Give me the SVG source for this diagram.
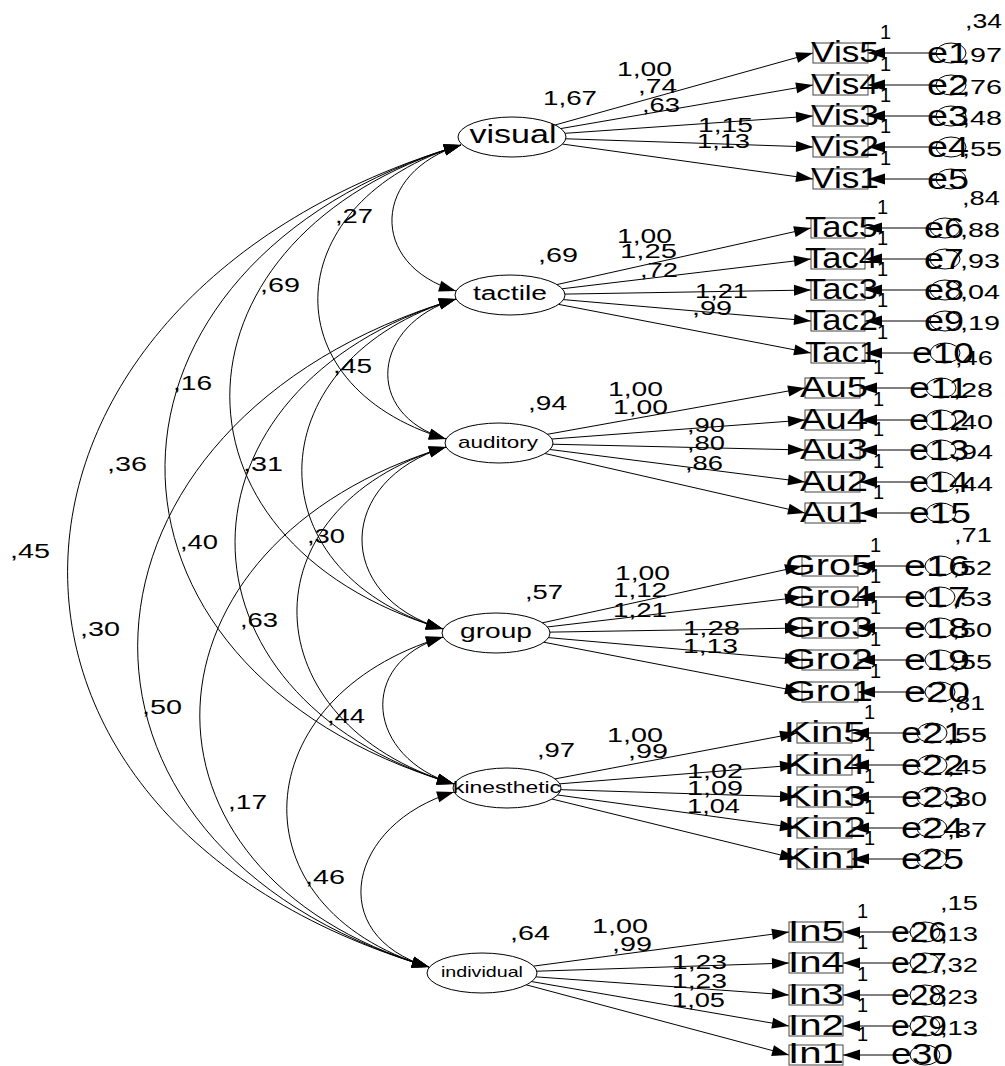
<svg xmlns="http://www.w3.org/2000/svg" width="1005" height="1066" viewBox="0 0 1005 1066">
<style>
.ln{stroke:#000;stroke-width:1;fill:none}
.ar{marker-end:url(#ah)}
.arc{stroke:#000;stroke-width:1;fill:none;marker-start:url(#ah);marker-end:url(#ah)}
.lat{fill:#fff;stroke:#000;stroke-width:1}
.box{fill:#fff;stroke:#444;stroke-width:1}
.err{fill:none;stroke:#000;stroke-width:1}
text{font-family:"Liberation Sans",Arial,sans-serif;fill:#000}
.b{font-size:30px}
.s{font-size:20px}
.e{font-size:30px}
</style>
<defs>
<marker id="ah" markerUnits="userSpaceOnUse" markerWidth="17" markerHeight="11" refX="17" refY="5.5" orient="auto-start-reverse" overflow="visible">
<path d="M0,0 L17,5.5 L0,11 z" fill="#000"/>
</marker>
</defs>
<rect width="1005" height="1066" fill="#fff"/>
<g id="connectors">
<path class="arc" d="M461,145 C372.3,171.6 367.3,264.4 456,291"/>
<path class="arc" d="M461,145 C280.4,199.2 265.4,384.8 446,439"/>
<path class="arc" d="M461,145 C165,233.8 147,540.2 443,629"/>
<path class="arc" d="M461,145 C71,262 64,667 454,784"/>
<path class="arc" d="M461,145 C-41.7,295.8 -73.7,816.2 429,967"/>
<path class="arc" d="M456,299 C372,324.2 362,413.8 446,439"/>
<path class="arc" d="M456,299 C259.3,358 246.3,570 443,629"/>
<path class="arc" d="M456,299 C162.7,387 160.7,696 454,784"/>
<path class="arc" d="M456,299 C50,420.8 23,845.2 429,967"/>
<path class="arc" d="M446,447 C336,480 333,596 443,629"/>
<path class="arc" d="M446,447 C242,508.2 250,722.8 454,784"/>
<path class="arc" d="M446,447 C129.3,542 112.3,872 429,967"/>
<path class="arc" d="M443,637 C355.7,663.2 366.7,757.8 454,784"/>
<path class="arc" d="M443,637 C244.3,696.6 230.3,907.4 429,967"/>
<path class="arc" d="M454,792 C348,823.8 323,935.2 429,967"/>
<g class="ln ar">
<line x1="512" y1="137" x2="813" y2="53"/><line x1="512" y1="137" x2="813" y2="85"/><line x1="512" y1="137" x2="813" y2="116"/><line x1="512" y1="137" x2="813" y2="147"/><line x1="512" y1="137" x2="813" y2="179"/>
<line x1="510" y1="295" x2="811" y2="228"/><line x1="510" y1="295" x2="811" y2="259"/><line x1="510" y1="295" x2="811" y2="290"/><line x1="510" y1="295" x2="811" y2="321"/><line x1="510" y1="295" x2="811" y2="353"/>
<line x1="499" y1="443" x2="805" y2="388"/><line x1="499" y1="443" x2="805" y2="420"/><line x1="499" y1="443" x2="805" y2="450"/><line x1="499" y1="443" x2="805" y2="482"/><line x1="499" y1="443" x2="805" y2="513"/>
<line x1="496" y1="633" x2="802" y2="566"/><line x1="496" y1="633" x2="802" y2="597"/><line x1="496" y1="633" x2="802" y2="628"/><line x1="496" y1="633" x2="802" y2="660"/><line x1="496" y1="633" x2="802" y2="692"/>
<line x1="507" y1="788" x2="797" y2="733"/><line x1="507" y1="788" x2="797" y2="765"/><line x1="507" y1="788" x2="797" y2="797"/><line x1="507" y1="788" x2="797" y2="828"/><line x1="507" y1="788" x2="797" y2="859"/>
<line x1="482" y1="973" x2="789" y2="932"/><line x1="482" y1="973" x2="789" y2="963"/><line x1="482" y1="973" x2="789" y2="995"/><line x1="482" y1="973" x2="789" y2="1026"/><line x1="482" y1="973" x2="789" y2="1055"/>
<line x1="936" y1="53" x2="868" y2="53"/><line x1="936" y1="85" x2="868" y2="85"/><line x1="936" y1="116" x2="868" y2="116"/><line x1="936" y1="147" x2="868" y2="147"/><line x1="936" y1="179" x2="868" y2="179"/>
<line x1="930" y1="228" x2="865" y2="228"/><line x1="930" y1="259" x2="865" y2="259"/><line x1="930" y1="290" x2="865" y2="290"/><line x1="930" y1="321" x2="865" y2="321"/><line x1="930" y1="353" x2="865" y2="353"/>
<line x1="926" y1="388" x2="860" y2="388"/><line x1="926" y1="420" x2="860" y2="420"/><line x1="926" y1="450" x2="860" y2="450"/><line x1="926" y1="482" x2="860" y2="482"/><line x1="926" y1="513" x2="860" y2="513"/>
<line x1="925" y1="566" x2="858" y2="566"/><line x1="925" y1="597" x2="858" y2="597"/><line x1="925" y1="628" x2="858" y2="628"/><line x1="925" y1="660" x2="858" y2="660"/><line x1="925" y1="692" x2="858" y2="692"/>
<line x1="917" y1="733" x2="852" y2="733"/><line x1="917" y1="765" x2="852" y2="765"/><line x1="917" y1="797" x2="852" y2="797"/><line x1="917" y1="828" x2="852" y2="828"/><line x1="917" y1="859" x2="852" y2="859"/>
<line x1="910" y1="932" x2="843" y2="932"/><line x1="910" y1="963" x2="843" y2="963"/><line x1="910" y1="995" x2="843" y2="995"/><line x1="910" y1="1026" x2="843" y2="1026"/><line x1="910" y1="1055" x2="843" y2="1055"/>
</g>
</g>
<g id="latent-visual"><ellipse class="lat" cx="512" cy="137" rx="54" ry="20"/><text x="513" y="143" font-size="26" text-anchor="middle" textLength="87" lengthAdjust="spacingAndGlyphs">visual</text></g>
<g id="latent-tactile"><ellipse class="lat" cx="510" cy="295" rx="55" ry="20"/><text x="510" y="300" font-size="20" text-anchor="middle" textLength="74" lengthAdjust="spacingAndGlyphs">tactile</text></g>
<g id="latent-auditory"><ellipse class="lat" cx="499" cy="443" rx="54" ry="20"/><text x="498" y="448" font-size="17" text-anchor="middle" textLength="80" lengthAdjust="spacingAndGlyphs">auditory</text></g>
<g id="latent-group"><ellipse class="lat" cx="496" cy="633" rx="54" ry="20"/><text x="496" y="638" font-size="21" text-anchor="middle" textLength="72" lengthAdjust="spacingAndGlyphs">group</text></g>
<g id="latent-kinesthetic"><ellipse class="lat" cx="507" cy="788" rx="54" ry="20"/><text x="507" y="793" font-size="17" text-anchor="middle" textLength="108" lengthAdjust="spacingAndGlyphs">kinesthetic</text></g>
<g id="latent-individual"><ellipse class="lat" cx="482" cy="973" rx="55" ry="20"/><text x="482" y="977" font-size="15" text-anchor="middle" textLength="82" lengthAdjust="spacingAndGlyphs">individual</text></g>
<g id="observed">
<g id="Vis5"><rect class="box" x="813" y="43" width="55" height="20"/><text class="b" x="811" y="62" textLength="68" lengthAdjust="spacingAndGlyphs">Vis5</text></g>
<g id="Vis4"><rect class="box" x="813" y="75" width="55" height="20"/><text class="b" x="811" y="94" textLength="68" lengthAdjust="spacingAndGlyphs">Vis4</text></g>
<g id="Vis3"><rect class="box" x="813" y="106" width="55" height="20"/><text class="b" x="811" y="125" textLength="68" lengthAdjust="spacingAndGlyphs">Vis3</text></g>
<g id="Vis2"><rect class="box" x="813" y="137" width="55" height="20"/><text class="b" x="811" y="156" textLength="68" lengthAdjust="spacingAndGlyphs">Vis2</text></g>
<g id="Vis1"><rect class="box" x="813" y="169" width="55" height="20"/><text class="b" x="811" y="188" textLength="68" lengthAdjust="spacingAndGlyphs">Vis1</text></g>
<g id="Tac5"><rect class="box" x="811" y="218" width="54" height="20"/><text class="b" x="805" y="237" textLength="73" lengthAdjust="spacingAndGlyphs">Tac5</text></g>
<g id="Tac4"><rect class="box" x="811" y="249" width="54" height="20"/><text class="b" x="805" y="268" textLength="73" lengthAdjust="spacingAndGlyphs">Tac4</text></g>
<g id="Tac3"><rect class="box" x="811" y="280" width="54" height="20"/><text class="b" x="805" y="299" textLength="73" lengthAdjust="spacingAndGlyphs">Tac3</text></g>
<g id="Tac2"><rect class="box" x="811" y="311" width="54" height="20"/><text class="b" x="805" y="330" textLength="73" lengthAdjust="spacingAndGlyphs">Tac2</text></g>
<g id="Tac1"><rect class="box" x="811" y="343" width="54" height="20"/><text class="b" x="805" y="362" textLength="73" lengthAdjust="spacingAndGlyphs">Tac1</text></g>
<g id="Au5"><rect class="box" x="805" y="378" width="55" height="20"/><text class="b" x="800" y="397" textLength="68" lengthAdjust="spacingAndGlyphs">Au5</text></g>
<g id="Au4"><rect class="box" x="805" y="410" width="55" height="20"/><text class="b" x="800" y="429" textLength="68" lengthAdjust="spacingAndGlyphs">Au4</text></g>
<g id="Au3"><rect class="box" x="805" y="440" width="55" height="20"/><text class="b" x="800" y="459" textLength="68" lengthAdjust="spacingAndGlyphs">Au3</text></g>
<g id="Au2"><rect class="box" x="805" y="472" width="55" height="20"/><text class="b" x="800" y="491" textLength="68" lengthAdjust="spacingAndGlyphs">Au2</text></g>
<g id="Au1"><rect class="box" x="805" y="503" width="55" height="20"/><text class="b" x="800" y="522" textLength="68" lengthAdjust="spacingAndGlyphs">Au1</text></g>
<g id="Gro5"><rect class="box" x="802" y="556" width="56" height="20"/><text class="b" x="785" y="575" textLength="88" lengthAdjust="spacingAndGlyphs">Gro5</text></g>
<g id="Gro4"><rect class="box" x="802" y="587" width="56" height="20"/><text class="b" x="785" y="606" textLength="88" lengthAdjust="spacingAndGlyphs">Gro4</text></g>
<g id="Gro3"><rect class="box" x="802" y="618" width="56" height="20"/><text class="b" x="785" y="637" textLength="88" lengthAdjust="spacingAndGlyphs">Gro3</text></g>
<g id="Gro2"><rect class="box" x="802" y="650" width="56" height="20"/><text class="b" x="785" y="669" textLength="88" lengthAdjust="spacingAndGlyphs">Gro2</text></g>
<g id="Gro1"><rect class="box" x="802" y="682" width="56" height="20"/><text class="b" x="785" y="701" textLength="88" lengthAdjust="spacingAndGlyphs">Gro1</text></g>
<g id="Kin5"><rect class="box" x="797" y="723" width="55" height="20"/><text class="b" x="784" y="742" textLength="82" lengthAdjust="spacingAndGlyphs">Kin5</text></g>
<g id="Kin4"><rect class="box" x="797" y="755" width="55" height="20"/><text class="b" x="784" y="774" textLength="82" lengthAdjust="spacingAndGlyphs">Kin4</text></g>
<g id="Kin3"><rect class="box" x="797" y="787" width="55" height="20"/><text class="b" x="784" y="806" textLength="82" lengthAdjust="spacingAndGlyphs">Kin3</text></g>
<g id="Kin2"><rect class="box" x="797" y="818" width="55" height="20"/><text class="b" x="784" y="837" textLength="82" lengthAdjust="spacingAndGlyphs">Kin2</text></g>
<g id="Kin1"><rect class="box" x="797" y="849" width="55" height="20"/><text class="b" x="784" y="868" textLength="82" lengthAdjust="spacingAndGlyphs">Kin1</text></g>
<g id="In5"><rect class="box" x="789" y="922" width="54" height="20"/><text class="b" x="788" y="941" textLength="56" lengthAdjust="spacingAndGlyphs">In5</text></g>
<g id="In4"><rect class="box" x="789" y="953" width="54" height="20"/><text class="b" x="788" y="972" textLength="56" lengthAdjust="spacingAndGlyphs">In4</text></g>
<g id="In3"><rect class="box" x="789" y="985" width="54" height="20"/><text class="b" x="788" y="1004" textLength="56" lengthAdjust="spacingAndGlyphs">In3</text></g>
<g id="In2"><rect class="box" x="789" y="1016" width="54" height="20"/><text class="b" x="788" y="1035" textLength="56" lengthAdjust="spacingAndGlyphs">In2</text></g>
<g id="In1"><rect class="box" x="789" y="1045" width="54" height="20"/><text class="b" x="788" y="1063" textLength="56" lengthAdjust="spacingAndGlyphs">In1</text></g>
</g>
<g id="errors">
<g id="e1"><ellipse class="err" cx="951" cy="53" rx="15" ry="10"/><text class="e" x="927" y="63" textLength="42" lengthAdjust="spacingAndGlyphs">e1</text></g>
<g id="e2"><ellipse class="err" cx="951" cy="85" rx="15" ry="10"/><text class="e" x="927" y="95" textLength="42" lengthAdjust="spacingAndGlyphs">e2</text></g>
<g id="e3"><ellipse class="err" cx="951" cy="116" rx="15" ry="10"/><text class="e" x="927" y="126" textLength="42" lengthAdjust="spacingAndGlyphs">e3</text></g>
<g id="e4"><ellipse class="err" cx="951" cy="147" rx="15" ry="10"/><text class="e" x="927" y="157" textLength="42" lengthAdjust="spacingAndGlyphs">e4</text></g>
<g id="e5"><ellipse class="err" cx="951" cy="179" rx="15" ry="10"/><text class="e" x="927" y="189" textLength="42" lengthAdjust="spacingAndGlyphs">e5</text></g>
<g id="e6"><ellipse class="err" cx="945" cy="228" rx="15" ry="10"/><text class="e" x="924" y="238" textLength="40" lengthAdjust="spacingAndGlyphs">e6</text></g>
<g id="e7"><ellipse class="err" cx="945" cy="259" rx="15" ry="10"/><text class="e" x="924" y="269" textLength="40" lengthAdjust="spacingAndGlyphs">e7</text></g>
<g id="e8"><ellipse class="err" cx="945" cy="290" rx="15" ry="10"/><text class="e" x="924" y="300" textLength="40" lengthAdjust="spacingAndGlyphs">e8</text></g>
<g id="e9"><ellipse class="err" cx="945" cy="321" rx="15" ry="10"/><text class="e" x="924" y="331" textLength="40" lengthAdjust="spacingAndGlyphs">e9</text></g>
<g id="e10"><ellipse class="err" cx="945" cy="353" rx="15" ry="10"/><text class="e" x="912" y="363" textLength="62" lengthAdjust="spacingAndGlyphs">e10</text></g>
<g id="e11"><ellipse class="err" cx="941" cy="388" rx="15" ry="10"/><text class="e" x="909" y="398" textLength="60" lengthAdjust="spacingAndGlyphs">e11</text></g>
<g id="e12"><ellipse class="err" cx="941" cy="420" rx="15" ry="10"/><text class="e" x="909" y="430" textLength="60" lengthAdjust="spacingAndGlyphs">e12</text></g>
<g id="e13"><ellipse class="err" cx="941" cy="450" rx="15" ry="10"/><text class="e" x="909" y="460" textLength="60" lengthAdjust="spacingAndGlyphs">e13</text></g>
<g id="e14"><ellipse class="err" cx="941" cy="482" rx="15" ry="10"/><text class="e" x="909" y="492" textLength="60" lengthAdjust="spacingAndGlyphs">e14</text></g>
<g id="e15"><ellipse class="err" cx="941" cy="513" rx="15" ry="10"/><text class="e" x="909" y="523" textLength="62" lengthAdjust="spacingAndGlyphs">e15</text></g>
<g id="e16"><ellipse class="err" cx="940" cy="566" rx="15" ry="10"/><text class="e" x="904" y="576" textLength="66" lengthAdjust="spacingAndGlyphs">e16</text></g>
<g id="e17"><ellipse class="err" cx="940" cy="597" rx="15" ry="10"/><text class="e" x="904" y="607" textLength="66" lengthAdjust="spacingAndGlyphs">e17</text></g>
<g id="e18"><ellipse class="err" cx="940" cy="628" rx="15" ry="10"/><text class="e" x="904" y="638" textLength="66" lengthAdjust="spacingAndGlyphs">e18</text></g>
<g id="e19"><ellipse class="err" cx="940" cy="660" rx="15" ry="10"/><text class="e" x="904" y="670" textLength="66" lengthAdjust="spacingAndGlyphs">e19</text></g>
<g id="e20"><ellipse class="err" cx="940" cy="692" rx="15" ry="10"/><text class="e" x="904" y="702" textLength="66" lengthAdjust="spacingAndGlyphs">e20</text></g>
<g id="e21"><ellipse class="err" cx="932" cy="733" rx="15" ry="10"/><text class="e" x="901" y="743" textLength="63" lengthAdjust="spacingAndGlyphs">e21</text></g>
<g id="e22"><ellipse class="err" cx="932" cy="765" rx="15" ry="10"/><text class="e" x="901" y="775" textLength="63" lengthAdjust="spacingAndGlyphs">e22</text></g>
<g id="e23"><ellipse class="err" cx="932" cy="797" rx="15" ry="10"/><text class="e" x="901" y="807" textLength="63" lengthAdjust="spacingAndGlyphs">e23</text></g>
<g id="e24"><ellipse class="err" cx="932" cy="828" rx="15" ry="10"/><text class="e" x="901" y="838" textLength="63" lengthAdjust="spacingAndGlyphs">e24</text></g>
<g id="e25"><ellipse class="err" cx="932" cy="859" rx="15" ry="10"/><text class="e" x="901" y="869" textLength="63" lengthAdjust="spacingAndGlyphs">e25</text></g>
<g id="e26"><ellipse class="err" cx="925" cy="932" rx="15" ry="10"/><text class="e" x="891" y="942" textLength="56" lengthAdjust="spacingAndGlyphs">e26</text></g>
<g id="e27"><ellipse class="err" cx="925" cy="963" rx="15" ry="10"/><text class="e" x="891" y="973" textLength="56" lengthAdjust="spacingAndGlyphs">e27</text></g>
<g id="e28"><ellipse class="err" cx="925" cy="995" rx="15" ry="10"/><text class="e" x="891" y="1005" textLength="56" lengthAdjust="spacingAndGlyphs">e28</text></g>
<g id="e29"><ellipse class="err" cx="925" cy="1026" rx="15" ry="10"/><text class="e" x="891" y="1036" textLength="56" lengthAdjust="spacingAndGlyphs">e29</text></g>
<g id="e30"><ellipse class="err" cx="925" cy="1055" rx="15" ry="10"/><text class="e" x="891" y="1064" textLength="62" lengthAdjust="spacingAndGlyphs">e30</text></g>
</g>
<g id="labels" class="s">
<g id="ones">
<text class="s" x="880" y="39">1</text><text class="s" x="880" y="71">1</text><text class="s" x="880" y="102">1</text><text class="s" x="880" y="133">1</text><text class="s" x="880" y="165">1</text>
<text class="s" x="877" y="214">1</text><text class="s" x="877" y="245">1</text><text class="s" x="877" y="276">1</text><text class="s" x="877" y="307">1</text><text class="s" x="877" y="339">1</text>
<text class="s" x="873" y="374">1</text><text class="s" x="873" y="406">1</text><text class="s" x="873" y="436">1</text><text class="s" x="873" y="468">1</text><text class="s" x="873" y="499">1</text>
<text class="s" x="870" y="552">1</text><text class="s" x="870" y="583">1</text><text class="s" x="870" y="614">1</text><text class="s" x="870" y="646">1</text><text class="s" x="870" y="678">1</text>
<text class="s" x="864" y="719">1</text><text class="s" x="864" y="751">1</text><text class="s" x="864" y="783">1</text><text class="s" x="864" y="814">1</text><text class="s" x="864" y="845">1</text>
<text class="s" x="857" y="918">1</text><text class="s" x="857" y="949">1</text><text class="s" x="857" y="981">1</text><text class="s" x="857" y="1012">1</text><text class="s" x="857" y="1041">1</text>
</g>
<g id="loadings">
<text class="s" x="617" y="76" textLength="55" lengthAdjust="spacingAndGlyphs">1,00</text>
<text class="s" x="638" y="93" textLength="39" lengthAdjust="spacingAndGlyphs">,74</text>
<text class="s" x="642" y="112" textLength="38" lengthAdjust="spacingAndGlyphs">,63</text>
<text class="s" x="698" y="132" textLength="55" lengthAdjust="spacingAndGlyphs">1,15</text>
<text class="s" x="697" y="148" textLength="53" lengthAdjust="spacingAndGlyphs">1,13</text>
<text class="s" x="543" y="105" textLength="54" lengthAdjust="spacingAndGlyphs">1,67</text>
<text class="s" x="617" y="243" textLength="55" lengthAdjust="spacingAndGlyphs">1,00</text>
<text class="s" x="620" y="258" textLength="57" lengthAdjust="spacingAndGlyphs">1,25</text>
<text class="s" x="640" y="277" textLength="38" lengthAdjust="spacingAndGlyphs">,72</text>
<text class="s" x="695" y="298" textLength="53" lengthAdjust="spacingAndGlyphs">1,21</text>
<text class="s" x="692" y="315" textLength="40" lengthAdjust="spacingAndGlyphs">,99</text>
<text class="s" x="538" y="262" textLength="40" lengthAdjust="spacingAndGlyphs">,69</text>
<text class="s" x="608" y="396" textLength="55" lengthAdjust="spacingAndGlyphs">1,00</text>
<text class="s" x="613" y="414" textLength="55" lengthAdjust="spacingAndGlyphs">1,00</text>
<text class="s" x="687" y="432" textLength="38" lengthAdjust="spacingAndGlyphs">,90</text>
<text class="s" x="687" y="450" textLength="38" lengthAdjust="spacingAndGlyphs">,80</text>
<text class="s" x="685" y="470" textLength="38" lengthAdjust="spacingAndGlyphs">,86</text>
<text class="s" x="528" y="410" textLength="39" lengthAdjust="spacingAndGlyphs">,94</text>
<text class="s" x="615" y="580" textLength="55" lengthAdjust="spacingAndGlyphs">1,00</text>
<text class="s" x="613" y="597" textLength="54" lengthAdjust="spacingAndGlyphs">1,12</text>
<text class="s" x="613" y="617" textLength="54" lengthAdjust="spacingAndGlyphs">1,21</text>
<text class="s" x="683" y="635" textLength="57" lengthAdjust="spacingAndGlyphs">1,28</text>
<text class="s" x="683" y="653" textLength="55" lengthAdjust="spacingAndGlyphs">1,13</text>
<text class="s" x="525" y="599" textLength="38" lengthAdjust="spacingAndGlyphs">,57</text>
<text class="s" x="607" y="742" textLength="56" lengthAdjust="spacingAndGlyphs">1,00</text>
<text class="s" x="628" y="758" textLength="40" lengthAdjust="spacingAndGlyphs">,99</text>
<text class="s" x="687" y="778" textLength="56" lengthAdjust="spacingAndGlyphs">1,02</text>
<text class="s" x="687" y="795" textLength="56" lengthAdjust="spacingAndGlyphs">1,09</text>
<text class="s" x="687" y="813" textLength="53" lengthAdjust="spacingAndGlyphs">1,04</text>
<text class="s" x="537" y="757" textLength="38" lengthAdjust="spacingAndGlyphs">,97</text>
<text class="s" x="592" y="933" textLength="56" lengthAdjust="spacingAndGlyphs">1,00</text>
<text class="s" x="612" y="951" textLength="40" lengthAdjust="spacingAndGlyphs">,99</text>
<text class="s" x="672" y="969" textLength="55" lengthAdjust="spacingAndGlyphs">1,23</text>
<text class="s" x="672" y="988" textLength="55" lengthAdjust="spacingAndGlyphs">1,23</text>
<text class="s" x="672" y="1007" textLength="53" lengthAdjust="spacingAndGlyphs">1,05</text>
<text class="s" x="510" y="940" textLength="40" lengthAdjust="spacingAndGlyphs">,64</text>
</g>
<g id="covariances">
<text class="s" x="335" y="223" textLength="38" lengthAdjust="spacingAndGlyphs">,27</text>
<text class="s" x="260" y="292" textLength="40" lengthAdjust="spacingAndGlyphs">,69</text>
<text class="s" x="173" y="390" textLength="39" lengthAdjust="spacingAndGlyphs">,16</text>
<text class="s" x="107" y="471" textLength="40" lengthAdjust="spacingAndGlyphs">,36</text>
<text class="s" x="10" y="558" textLength="40" lengthAdjust="spacingAndGlyphs">,45</text>
<text class="s" x="333" y="373" textLength="39" lengthAdjust="spacingAndGlyphs">,45</text>
<text class="s" x="243" y="471" textLength="40" lengthAdjust="spacingAndGlyphs">,31</text>
<text class="s" x="180" y="549" textLength="38" lengthAdjust="spacingAndGlyphs">,40</text>
<text class="s" x="307" y="543" textLength="38" lengthAdjust="spacingAndGlyphs">,30</text>
<text class="s" x="80" y="636" textLength="40" lengthAdjust="spacingAndGlyphs">,30</text>
<text class="s" x="240" y="627" textLength="38" lengthAdjust="spacingAndGlyphs">,63</text>
<text class="s" x="142" y="714" textLength="40" lengthAdjust="spacingAndGlyphs">,50</text>
<text class="s" x="327" y="723" textLength="38" lengthAdjust="spacingAndGlyphs">,44</text>
<text class="s" x="228" y="809" textLength="39" lengthAdjust="spacingAndGlyphs">,17</text>
<text class="s" x="305" y="884" textLength="40" lengthAdjust="spacingAndGlyphs">,46</text>
</g>
<g id="variances" text-anchor="end">
<text class="s" x="1002" y="28" textLength="37" lengthAdjust="spacingAndGlyphs">,34</text>
<text class="s" x="1002" y="62" textLength="40" lengthAdjust="spacingAndGlyphs">,97</text>
<text class="s" x="1002" y="94" textLength="40" lengthAdjust="spacingAndGlyphs">,76</text>
<text class="s" x="1002" y="125" textLength="40" lengthAdjust="spacingAndGlyphs">,48</text>
<text class="s" x="1002" y="156" textLength="40" lengthAdjust="spacingAndGlyphs">,55</text>
<text class="s" x="1000" y="205" textLength="38" lengthAdjust="spacingAndGlyphs">,84</text>
<text class="s" x="1000" y="237" textLength="40" lengthAdjust="spacingAndGlyphs">,88</text>
<text class="s" x="1000" y="268" textLength="40" lengthAdjust="spacingAndGlyphs">,93</text>
<text class="s" x="1000" y="299" textLength="40" lengthAdjust="spacingAndGlyphs">,04</text>
<text class="s" x="1000" y="330" textLength="40" lengthAdjust="spacingAndGlyphs">,19</text>
<text class="s" x="993" y="365" textLength="38" lengthAdjust="spacingAndGlyphs">,46</text>
<text class="s" x="993" y="397" textLength="40" lengthAdjust="spacingAndGlyphs">,28</text>
<text class="s" x="993" y="429" textLength="40" lengthAdjust="spacingAndGlyphs">,40</text>
<text class="s" x="993" y="459" textLength="40" lengthAdjust="spacingAndGlyphs">,94</text>
<text class="s" x="993" y="491" textLength="40" lengthAdjust="spacingAndGlyphs">,44</text>
<text class="s" x="992" y="542" textLength="38" lengthAdjust="spacingAndGlyphs">,71</text>
<text class="s" x="992" y="575" textLength="40" lengthAdjust="spacingAndGlyphs">,52</text>
<text class="s" x="992" y="606" textLength="40" lengthAdjust="spacingAndGlyphs">,53</text>
<text class="s" x="992" y="637" textLength="40" lengthAdjust="spacingAndGlyphs">,50</text>
<text class="s" x="992" y="669" textLength="40" lengthAdjust="spacingAndGlyphs">,55</text>
<text class="s" x="985" y="710" textLength="37" lengthAdjust="spacingAndGlyphs">,81</text>
<text class="s" x="987" y="742" textLength="40" lengthAdjust="spacingAndGlyphs">,55</text>
<text class="s" x="987" y="774" textLength="40" lengthAdjust="spacingAndGlyphs">,45</text>
<text class="s" x="987" y="806" textLength="40" lengthAdjust="spacingAndGlyphs">,30</text>
<text class="s" x="987" y="837" textLength="40" lengthAdjust="spacingAndGlyphs">,37</text>
<text class="s" x="978" y="910" textLength="38" lengthAdjust="spacingAndGlyphs">,15</text>
<text class="s" x="978" y="941" textLength="38" lengthAdjust="spacingAndGlyphs">,13</text>
<text class="s" x="978" y="972" textLength="38" lengthAdjust="spacingAndGlyphs">,32</text>
<text class="s" x="978" y="1004" textLength="38" lengthAdjust="spacingAndGlyphs">,23</text>
<text class="s" x="978" y="1035" textLength="38" lengthAdjust="spacingAndGlyphs">,13</text>
</g>
</g>
</svg>
